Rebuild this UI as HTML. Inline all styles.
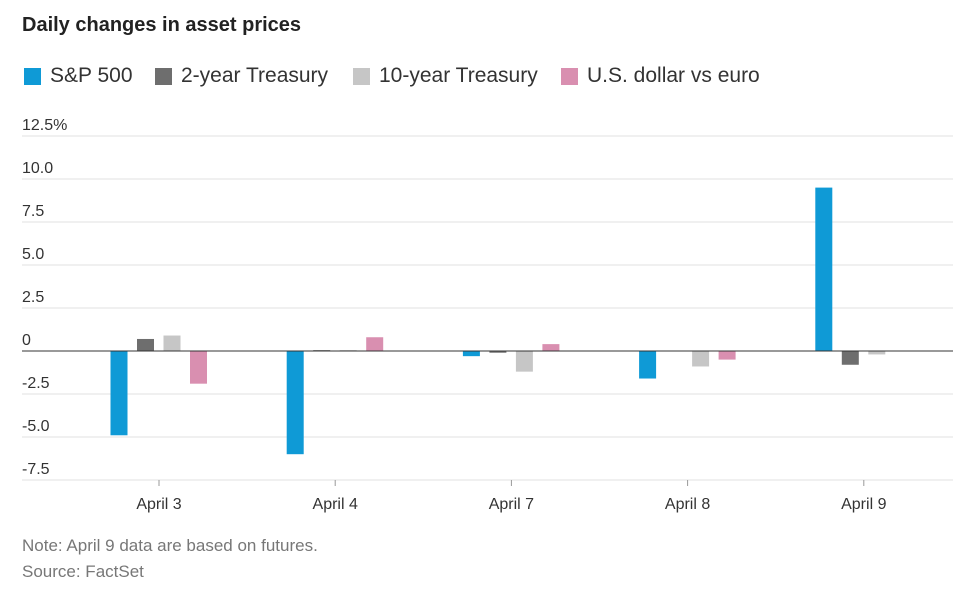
<!DOCTYPE html>
<html><head><meta charset="utf-8"><style>
body{margin:0;background:#fff;font-family:"Liberation Sans",sans-serif;}
#wrap{position:relative;width:953px;height:597px;overflow:hidden;}
.t{position:absolute;white-space:nowrap;}
</style></head><body>
<div id="wrap">
<div class="t" style="left:22px;top:14px;font-size:20px;font-weight:bold;color:#222;">Daily changes in asset prices</div>
<div style="position:absolute;left:22px;top:64px;font-size:21px;color:#333;">
<span style="position:absolute;left:2px;top:4px;width:17px;height:17px;background:#0f9ad6"></span><span class="t" style="left:28px;top:0">S&amp;P 500</span>
<span style="position:absolute;left:133px;top:4px;width:17px;height:17px;background:#6e6e6e"></span><span class="t" style="left:159px;top:0">2-year Treasury</span>
<span style="position:absolute;left:331px;top:4px;width:17px;height:17px;background:#c6c6c6"></span><span class="t" style="left:357px;top:0">10-year Treasury</span>
<span style="position:absolute;left:539px;top:4px;width:17px;height:17px;background:#d98fb0"></span><span class="t" style="left:565px;top:0">U.S. dollar vs euro</span>
</div>
<svg id="chart" width="953" height="597" style="position:absolute;left:0;top:0"></svg>
<div class="t" style="left:22px;top:536px;font-size:17px;color:#777;">Note: April 9 data are based on futures.</div>
<div class="t" style="left:22px;top:562px;font-size:17px;color:#777;">Source: FactSet</div>
</div>
<script>
const categories=["April 3","April 4","April 7","April 8","April 9"];
const sp500=[-4.9,-6.0,-0.3,-1.6,9.5];
const t2y=[0.7,0.05,-0.1,0,-0.8];
const t10y=[0.9,0.05,-1.2,-0.9,-0.2];
const usd=[-1.9,0.8,0.4,-0.5,0];
const yTicks=[12.5,10,7.5,5,2.5,0,-2.5,-5,-7.5];
const yTickLabels=["12.5%","10.0","7.5","5.0","2.5","0","-2.5","-5.0","-7.5"];
const series=[sp500,t2y,t10y,usd];
const colors=["#0f9ad6","#6e6e6e","#c6c6c6","#d98fb0"];
const names=["sp500","2y","10y","usd"];
const svg=document.getElementById('chart');
const NS="http://www.w3.org/2000/svg";
const y0=351,pxPerUnit=17.2;
const y=v=>y0-v*pxPerUnit;
const x=i=>159+i*176.2;
function mk(tag,attrs){const e=document.createElementNS(NS,tag);for(const k in attrs)e.setAttribute(k,attrs[k]);svg.appendChild(e);return e;}
yTicks.forEach((v,i)=>{
 const g=mk('line',{x1:22,x2:953,y1:y(v),y2:y(v),stroke:v===0?'#333':'#e2e2e2','stroke-width':1});
 
 
 const t=mk('text',{x:22,y:y(v)-6,'font-size':16,fill:'#333','font-family':'Liberation Sans, sans-serif'});
 t.textContent=yTickLabels[i];
 
 
});
categories.forEach((c,i)=>{
 const tk=mk('line',{x1:x(i),x2:x(i),y1:480,y2:486,stroke:'#999'});
 
 
 const t=mk('text',{x:x(i),y:509,'font-size':16,fill:'#333','text-anchor':'middle','font-family':'Liberation Sans, sans-serif'});
 t.textContent=c;
 
 
 series.forEach((s,j)=>{
  const v=s[i];const cx=x(i)-40+j*26.5;
  const top=Math.min(y(v),y0),h=Math.max(Math.abs(y(v)-y0),0.5);
  const r=mk('rect',{x:cx-8.5,y:top,width:17,height:h,fill:colors[j]});
  
  
 });
});
const z=mk('line',{x1:22,x2:953,y1:y0,y2:y0,stroke:'#333','stroke-width':1});


</script>
</body></html>
